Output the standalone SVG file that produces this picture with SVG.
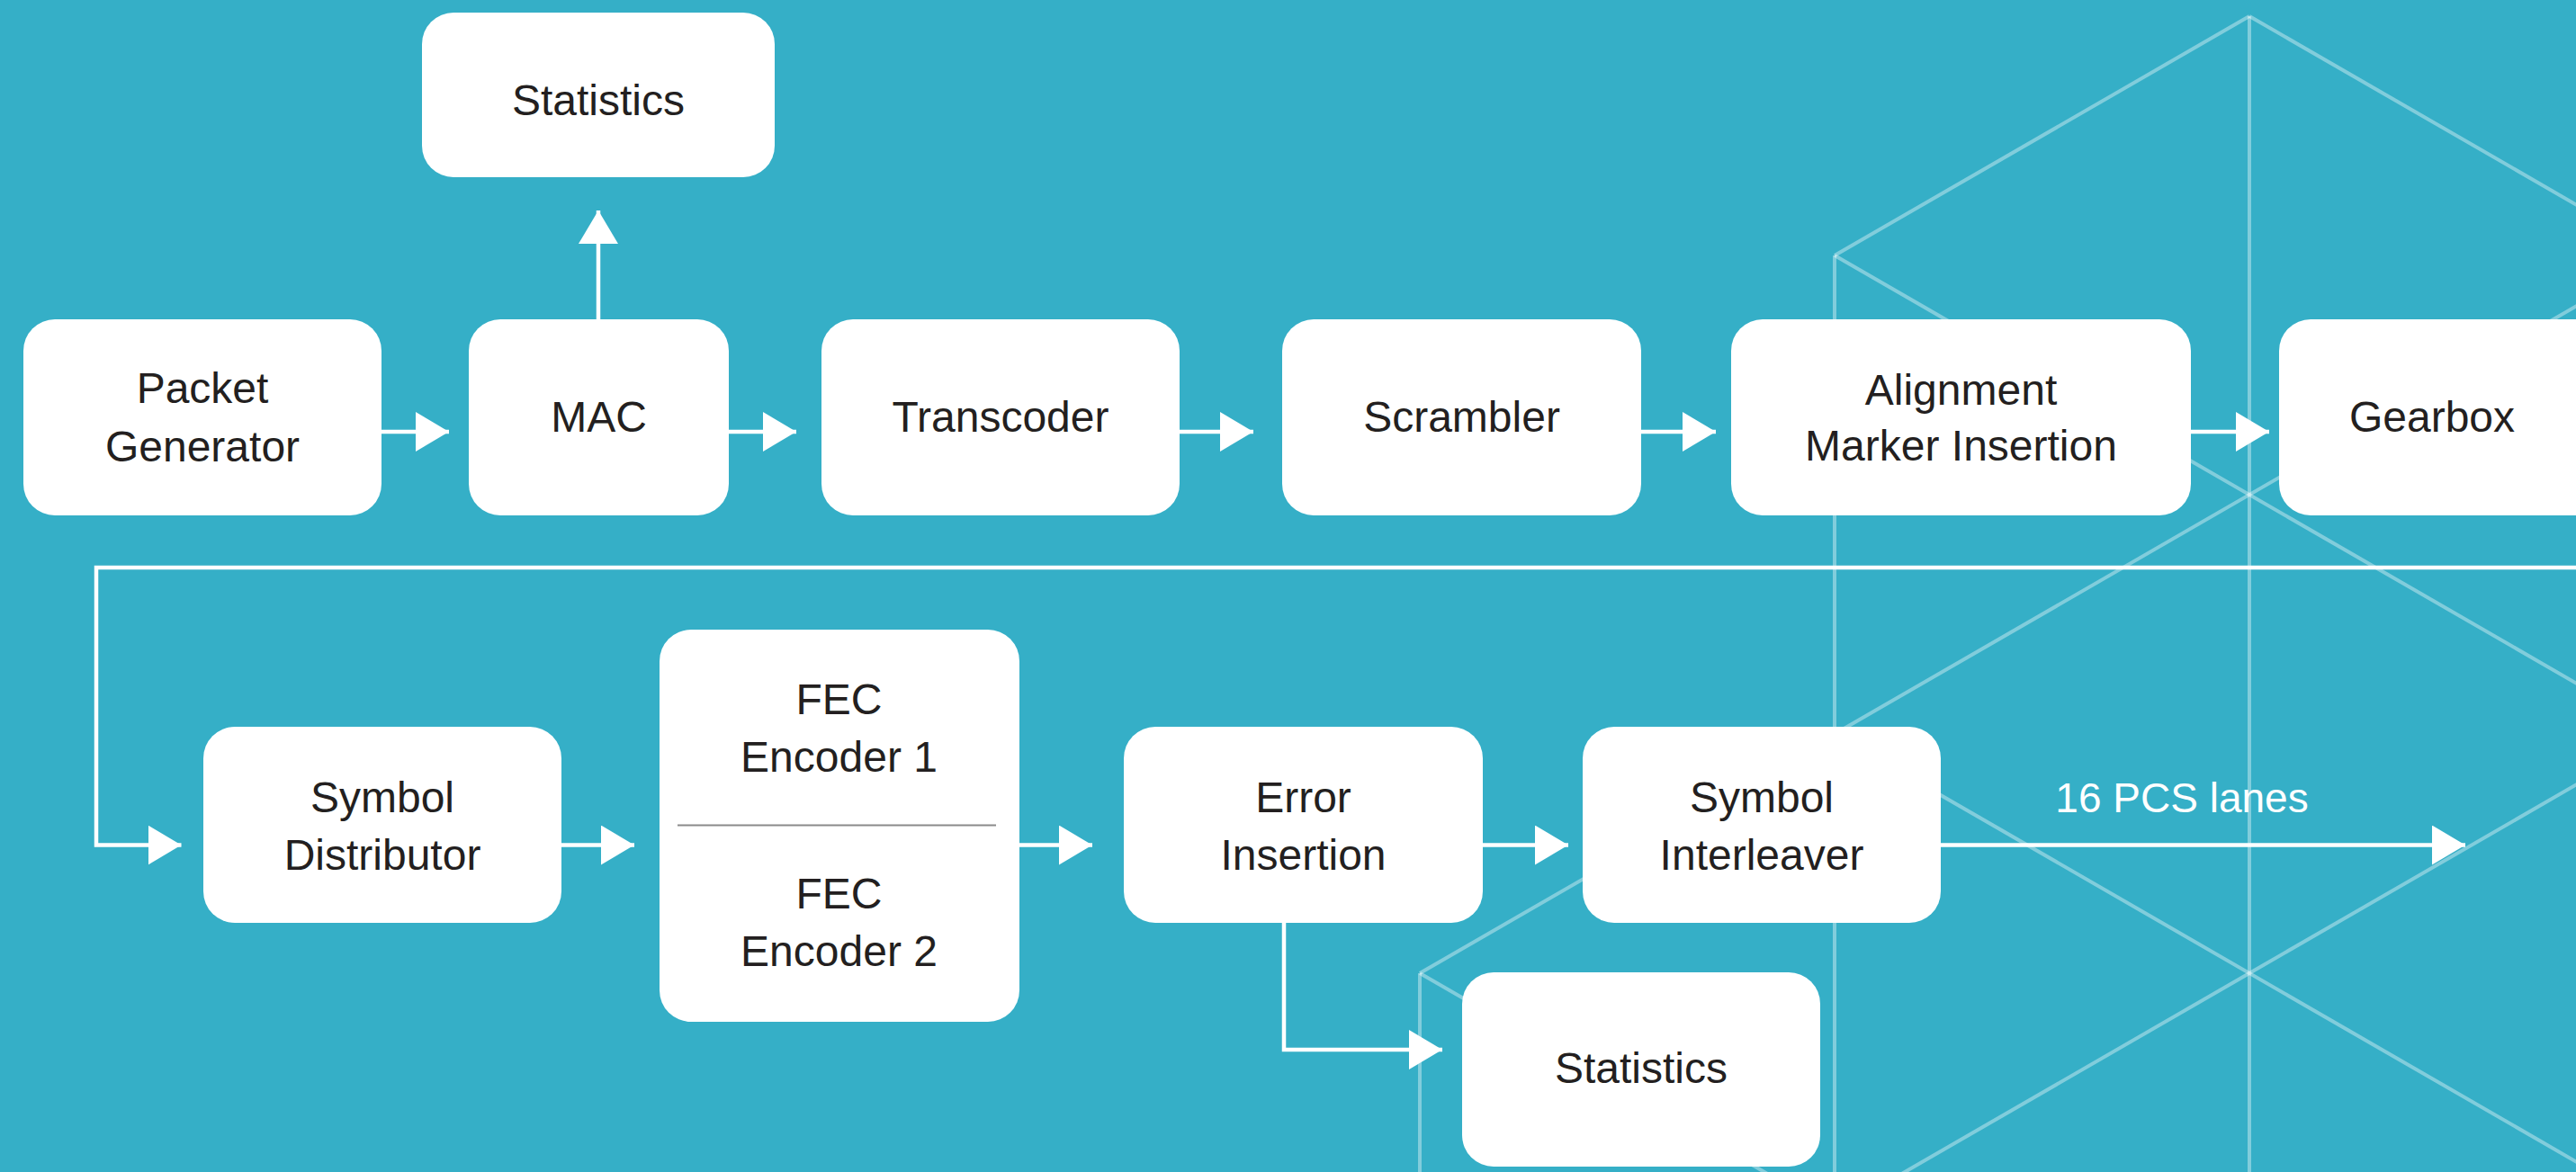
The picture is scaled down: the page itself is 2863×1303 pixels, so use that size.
<svg xmlns="http://www.w3.org/2000/svg" width="2863" height="1303" viewBox="0 0 2863 1303">
<style>
.bg{stroke:#ffffff;stroke-opacity:0.38;stroke-width:4;fill:none}
.box{fill:#ffffff}
.t{font-family:"Liberation Sans",Arial,sans-serif;font-size:48px;fill:#231f20;text-anchor:middle}
.lbl{font-family:"Liberation Sans",Arial,sans-serif;font-size:46px;fill:#ffffff;text-anchor:middle}
.c{stroke:#ffffff;stroke-width:4.5;fill:none;marker-end:url(#ah)}
</style>
<defs>
<marker id="ah" markerUnits="userSpaceOnUse" markerWidth="37" markerHeight="44" refX="37" refY="22" orient="auto">
<path d="M0,0 L37,22 L0,44 Z" fill="#ffffff"/>
</marker>
</defs>
<rect x="0" y="0" width="2863" height="1303" fill="#35afc7"/>
<g id="background">
<line class="bg" x1="2500" y1="18" x2="2039" y2="284"/>
<line class="bg" x1="2500" y1="18" x2="2961" y2="284"/>
<line class="bg" x1="2500" y1="18" x2="2500" y2="1303"/>
<line class="bg" x1="2039" y1="284" x2="2039" y2="1303"/>
<line class="bg" x1="2039" y1="284" x2="2961" y2="816"/>
<line class="bg" x1="2039" y1="816" x2="2961" y2="284"/>
<line class="bg" x1="2039" y1="816" x2="2961" y2="1348"/>
<line class="bg" x1="2500" y1="1082" x2="2961" y2="816"/>
<line class="bg" x1="2500" y1="1082" x2="2039" y2="1348"/>
<line class="bg" x1="1578" y1="1082" x2="2039" y2="816"/>
<line class="bg" x1="1578" y1="1082" x2="1578" y2="1303"/>
<line class="bg" x1="1578" y1="1082" x2="2039" y2="1348"/>
</g>
<g id="connectors">
<line class="c" x1="424" y1="480" x2="499" y2="480"/>
<line class="c" x1="810" y1="480" x2="885" y2="480"/>
<line class="c" x1="1311" y1="480" x2="1393" y2="480"/>
<line class="c" x1="1824" y1="480" x2="1907" y2="480"/>
<line class="c" x1="2435" y1="480" x2="2522" y2="480"/>
<line class="c" x1="665" y1="355" x2="665" y2="234"/>
<polyline class="c" points="2880,631 107,631 107,939.5 201.5,939.5"/>
<line class="c" x1="624" y1="939.5" x2="705" y2="939.5"/>
<line class="c" x1="1133" y1="939.5" x2="1214" y2="939.5"/>
<line class="c" x1="1648" y1="939.5" x2="1743" y2="939.5"/>
<line class="c" x1="2157" y1="939.5" x2="2740" y2="939.5"/>
<polyline class="c" points="1427,1026 1427,1167 1603,1167"/>
<text class="lbl" x="2425" y="903">16 PCS lanes</text>
</g>
<g id="stats_top"><rect class="box" x="469" y="14" width="392" height="183" rx="35"/><text class="t" x="665" y="128">Statistics</text></g>
<g id="packet_generator"><rect class="box" x="26" y="355" width="398" height="218" rx="35"/><text class="t" x="225" y="448">Packet</text><text class="t" x="225" y="513">Generator</text></g>
<g id="mac"><rect class="box" x="521" y="355" width="289" height="218" rx="35"/><text class="t" x="665.5" y="480">MAC</text></g>
<g id="transcoder"><rect class="box" x="913" y="355" width="398" height="218" rx="35"/><text class="t" x="1112" y="480">Transcoder</text></g>
<g id="scrambler"><rect class="box" x="1425" y="355" width="399" height="218" rx="35"/><text class="t" x="1624.5" y="480">Scrambler</text></g>
<g id="alignment"><rect class="box" x="1924" y="355" width="511" height="218" rx="35"/><text class="t" x="2179.5" y="450">Alignment</text><text class="t" x="2179.5" y="512">Marker Insertion</text></g>
<g id="gearbox"><rect class="box" x="2533" y="355" width="400" height="218" rx="35"/><text class="t" x="2703" y="480">Gearbox</text></g>
<g id="symbol_distributor"><rect class="box" x="226" y="808" width="398" height="218" rx="35"/><text class="t" x="425" y="903">Symbol</text><text class="t" x="425" y="967">Distributor</text></g>
<g id="fec"><rect class="box" x="733" y="700" width="400" height="436" rx="35"/><line x1="753" y1="917.5" x2="1107" y2="917.5" stroke="#8a8a8a" stroke-width="2"/><text class="t" x="932.5" y="794">FEC</text><text class="t" x="932.5" y="858">Encoder 1</text><text class="t" x="932.5" y="1010">FEC</text><text class="t" x="932.5" y="1074">Encoder 2</text></g>
<g id="error_insertion"><rect class="box" x="1249" y="808" width="399" height="218" rx="35"/><text class="t" x="1448.5" y="903">Error</text><text class="t" x="1448.5" y="967">Insertion</text></g>
<g id="symbol_interleaver"><rect class="box" x="1759" y="808" width="398" height="218" rx="35"/><text class="t" x="1958" y="903">Symbol</text><text class="t" x="1958" y="967">Interleaver</text></g>
<g id="stats_bottom"><rect class="box" x="1625" y="1081" width="398" height="216" rx="35"/><text class="t" x="1824" y="1204">Statistics</text></g>
</svg>
